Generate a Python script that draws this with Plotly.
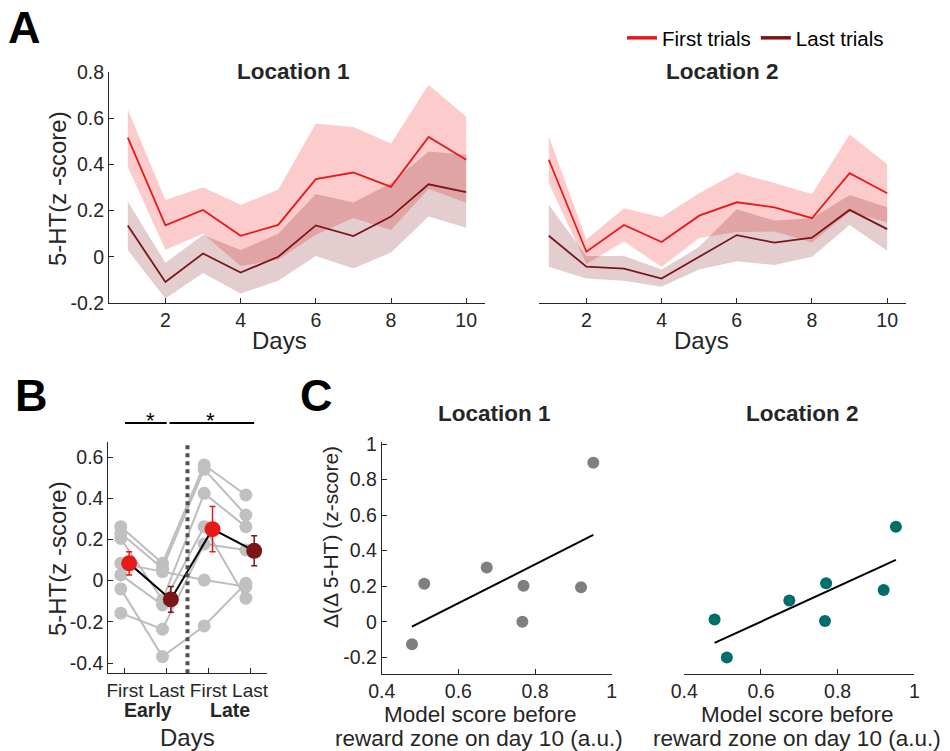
import numpy as np
import plotly.graph_objects as go

W, H = 950, 751
def px(x): return x / W
def py(y): return 1 - y / H

FONT = "Liberation Sans, Arial, Helvetica, sans-serif"
TXT = "#262626"

# ---------------- Panel A data ----------------
days = list(range(1, 11))
loc1_first_mean = [0.516, 0.136, 0.203, 0.091, 0.138, 0.336, 0.365, 0.303, 0.519, 0.420]
loc1_first_upper = [0.638, 0.246, 0.301, 0.225, 0.290, 0.577, 0.562, 0.490, 0.745, 0.606]
loc1_first_lower = [0.390, 0.030, 0.100, -0.040, -0.012, 0.095, 0.168, 0.116, 0.293, 0.234]
loc1_last_mean = [0.135, -0.109, 0.014, -0.068, 0.000, 0.136, 0.090, 0.174, 0.314, 0.280]
loc1_last_upper = [0.239, -0.026, 0.094, 0.029, 0.100, 0.272, 0.235, 0.320, 0.456, 0.442]
loc1_last_lower = [0.029, -0.181, -0.070, -0.159, -0.104, 0.003, -0.051, 0.019, 0.174, 0.126]

loc2_first_mean = [0.420, 0.022, 0.138, 0.064, 0.178, 0.236, 0.214, 0.167, 0.362, 0.275]
loc2_first_upper = [0.522, 0.075, 0.210, 0.171, 0.275, 0.365, 0.319, 0.272, 0.529, 0.401]
loc2_first_lower = [0.318, -0.031, 0.066, -0.043, 0.081, 0.107, 0.109, 0.062, 0.195, 0.149]
loc2_last_mean = [0.091, -0.043, -0.051, -0.094, 0.000, 0.094, 0.061, 0.083, 0.203, 0.120]
loc2_last_upper = [0.225, 0.003, 0.003, -0.055, 0.043, 0.206, 0.157, 0.167, 0.268, 0.214]
loc2_last_lower = [-0.043, -0.094, -0.104, -0.130, -0.055, -0.019, -0.036, 0.000, 0.138, 0.026]

# ---------------- Panel B data ----------------
cond_positions = [1, 2, 3, 4]
cond_labels = ["First", "Last", "First", "Last"]
animals_5ht = [
    [0.262, 0.084, 0.562, 0.416],
    [0.230, 0.060, 0.541, 0.319],
    [0.205, -0.094, 0.424, 0.262],
    [0.084, 0.044, 0.003, -0.029],
    [0.028, -0.118, 0.262, -0.085],
    [-0.040, -0.369, -0.220, -0.013],
    [-0.158, -0.236, 0.178, 0.149],
]
group_mean = [0.084, -0.091, 0.250, 0.145]
group_sem = [0.057, 0.063, 0.110, 0.073]

# ---------------- Panel C data ----------------
model_score = [0.479, 0.511, 0.674, 0.770, 0.767, 0.920, 0.952]
loc1_ddelta = [-0.126, 0.214, 0.305, 0.203, 0.000, 0.194, 0.895]
loc2_ddelta = [0.013, -0.201, 0.120, 0.216, 0.004, 0.179, 0.534]

RED = "#e81919"
DRED = "#7b1518"
RED_BAND = "rgba(240,25,25,0.22)"
DRED_BAND = "rgba(125,20,22,0.21)"

fig = go.Figure()

def band(x, up, lo, color, xa, ya):
    fig.add_trace(go.Scatter(x=list(x) + list(x)[::-1], y=list(up) + list(lo)[::-1],
                             fill="toself", fillcolor=color, line=dict(width=0),
                             mode="lines", hoverinfo="skip", showlegend=False,
                             xaxis=xa, yaxis=ya))

for (fm, fu, fl, lm, lu, ll, xa, ya) in [
    (loc1_first_mean, loc1_first_upper, loc1_first_lower, loc1_last_mean, loc1_last_upper, loc1_last_lower, "x", "y"),
    (loc2_first_mean, loc2_first_upper, loc2_first_lower, loc2_last_mean, loc2_last_upper, loc2_last_lower, "x2", "y2"),
]:
    band(days, fu, fl, RED_BAND, xa, ya)
    band(days, lu, ll, DRED_BAND, xa, ya)
    fig.add_trace(go.Scatter(x=days, y=fm, mode="lines", line=dict(color=RED, width=1.8),
                             showlegend=False, xaxis=xa, yaxis=ya))
    fig.add_trace(go.Scatter(x=days, y=lm, mode="lines", line=dict(color=DRED, width=1.8),
                             showlegend=False, xaxis=xa, yaxis=ya))

# legend entries (thicker lines, as in the reference legend)
fig.add_trace(go.Scatter(x=[None], y=[None], mode="lines", line=dict(color=RED, width=3.5),
                         name="First trials", xaxis="x", yaxis="y"))
fig.add_trace(go.Scatter(x=[None], y=[None], mode="lines", line=dict(color=DRED, width=3.5),
                         name="Last trials", xaxis="x", yaxis="y"))

# Panel B
GRAY_OFF = -0.1
MEAN_OFF = 0.1
for a in animals_5ht:
    fig.add_trace(go.Scatter(x=[p + GRAY_OFF for p in cond_positions], y=a, mode="lines+markers",
                             line=dict(color="#bdbdbd", width=2),
                             marker=dict(color="#c0c0c0", size=13),
                             showlegend=False, xaxis="x3", yaxis="y3", hoverinfo="skip"))
fig.add_trace(go.Scatter(x=[p + MEAN_OFF for p in cond_positions], y=group_mean, mode="lines",
                         line=dict(color="black", width=2), showlegend=False,
                         xaxis="x3", yaxis="y3"))
for i, p in enumerate(cond_positions):
    c = RED if i % 2 == 0 else DRED
    fig.add_trace(go.Scatter(x=[p + MEAN_OFF], y=[group_mean[i]], mode="markers",
                             marker=dict(color=c, size=16),
                             error_y=dict(type="data", array=[group_sem[i]], color=c,
                                          thickness=1.5, width=3),
                             showlegend=False, xaxis="x3", yaxis="y3"))

# Panel C
for (yy, col, xa, ya) in [(loc1_ddelta, "#7f7f7f", "x5", "y5"), (loc2_ddelta, "#006e69", "x6", "y6")]:
    fig.add_trace(go.Scatter(x=model_score, y=yy, mode="markers",
                             marker=dict(color=col, size=12), showlegend=False,
                             xaxis=xa, yaxis=ya))
    k, b = np.polyfit(model_score, yy, 1)
    xs = [min(model_score), max(model_score)]
    fig.add_trace(go.Scatter(x=xs, y=[k * v + b for v in xs], mode="lines",
                             line=dict(color="black", width=2), showlegend=False,
                             xaxis=xa, yaxis=ya))

TS = 19.5

def xax(dom, rng, tv, tt=None, size=TS):
    d = dict(domain=[px(dom[0]), px(dom[1])], range=rng, tickvals=tv, showline=True,
             linecolor=TXT, linewidth=1, ticks="inside", ticklen=5, tickcolor=TXT,
             showgrid=False, zeroline=False, automargin=False,
             tickfont=dict(family=FONT, size=size, color=TXT))
    if tt is not None:
        d["ticktext"] = tt
    return d

def yax(dom, rng, tv, tt, visible=True, size=TS):
    d = dict(domain=[py(dom[1]), py(dom[0])], range=rng, tickvals=tv, ticktext=tt,
             showline=True, linecolor=TXT, linewidth=1, ticks="inside", ticklen=5,
             tickcolor=TXT, showgrid=False, zeroline=False, visible=visible, automargin=False,
             tickfont=dict(family=FONT, size=size, color=TXT))
    return d

yA_vals = [-0.2, 0, 0.2, 0.4, 0.6, 0.8]
yA_text = ["-0.2", "0", "0.2", "0.4", "0.6", "0.8"]
yB_vals = [-0.4, -0.2, 0, 0.2, 0.4, 0.6]
yB_text = ["-0.4", "-0.2", "0", "0.2", "0.4", "0.6"]
yC_vals = [-0.2, 0, 0.2, 0.4, 0.6, 0.8, 1]
yC_text = ["-0.2", "0", "0.2", "0.4", "0.6", "0.8", "1"]
xC_vals = [0.4, 0.6, 0.8, 1]
xC_text = ["0.4", "0.6", "0.8", "1"]

fig.update_layout(
    template="none",
    xaxis=dict(**xax((109, 485), [0.5, 10.5], [2, 4, 6, 8, 10]), anchor="y"),
    yaxis=dict(**yax((72, 303), [-0.2, 0.8], yA_vals, yA_text), anchor="x"),
    xaxis2=dict(**xax((539, 906), [0.74, 10.5], [2, 4, 6, 8, 10]), anchor="y2"),
    yaxis2=dict(**yax((72, 303), [-0.2, 0.8], yA_vals, yA_text, visible=False), anchor="x2"),
    xaxis3=dict(**xax((108.3, 266.7), [0.6, 4.4], cond_positions, cond_labels, size=19), anchor="y3"),
    yaxis3=dict(**yax((441.7, 673.3), [-0.45, 0.675], yB_vals, yB_text), anchor="x3"),
    xaxis5=dict(**xax((381.7, 611.7), [0.4, 1.0], xC_vals, xC_text), anchor="y5"),
    yaxis5=dict(**yax((441.7, 674), [-0.294, 1.013], yC_vals, yC_text), anchor="x5"),
    xaxis6=dict(**xax((684.3, 914.3), [0.4, 1.0], xC_vals, xC_text), anchor="y6"),
    yaxis6=dict(**yax((441.7, 674), [-0.294, 1.013], yC_vals, yC_text, visible=False), anchor="x6"),
    width=W, height=H, margin=dict(l=0, r=0, t=0, b=0, pad=0),
    paper_bgcolor="white", plot_bgcolor="white",
    font=dict(family=FONT, color=TXT),
    showlegend=True,
    legend=dict(orientation="h", x=px(622), xanchor="left", y=py(38), yanchor="middle",
                font=dict(family=FONT, size=20.5, color="black"), bgcolor="rgba(0,0,0,0)",
                borderwidth=0, itemwidth=30, tracegroupgap=0),
)

# Dotted separator in panel B
fig.add_shape(type="line", xref="x3", yref="y3", x0=2.5, x1=2.5, y0=-0.45, y1=0.66,
              line=dict(color="#505050", width=4, dash="dot"))
# significance bars
fig.add_shape(type="line", xref="x3", yref="paper", x0=1, x1=2, y0=py(423), y1=py(423),
              line=dict(color="black", width=2))
fig.add_shape(type="line", xref="x3", yref="paper", x0=2.07, x1=4.1, y0=py(423), y1=py(423),
              line=dict(color="black", width=2))

anns = []
def ann(text, x, y, size, bold=False, rot=0, color=TXT, xanchor="center", yanchor="middle"):
    t = f"<b>{text}</b>" if bold else text
    anns.append(dict(text=t, x=px(x), y=py(y), xref="paper", yref="paper", showarrow=False,
                     textangle=rot, xanchor=xanchor, yanchor=yanchor, align="center",
                     font=dict(family=FONT, size=size, color=color)))

ann("A", 6, 27, 45, bold=True, color="black", xanchor="left")
ann("B", 13, 395, 45, bold=True, color="black", xanchor="left")
ann("C", 298, 395, 45, bold=True, color="black", xanchor="left")

ann("Location 1", 293, 71, 22.5, bold=True)
ann("Location 2", 722, 71, 22.5, bold=True)
ann("Days", 279, 341, 24)
ann("Days", 701, 341, 24)
ann("5-HT(z -score)", 57, 189, 24, rot=-90)

ann("*", 150, 420, 22, color="black")
ann("*", 210, 420, 22, color="black")
ann("5-HT(z -score)", 57, 559, 24, rot=-90)
ann("Early", 148, 710, 19.5, bold=True)
ann("Late", 230, 710, 19.5, bold=True)
ann("Days", 187, 737, 24)

ann("Location 1", 494, 413, 22.5, bold=True)
ann("Location 2", 802, 413, 22.5, bold=True)
ann("Δ(Δ 5-HT) (z-score)", 330, 537, 21, rot=-90)
ann("Model score before", 480, 714, 22.5)
ann("reward zone on day 10 (a.u.)", 479, 738, 22.5)
ann("Model score before", 797, 714, 22.5)
ann("reward zone on day 10 (a.u.)", 797, 738, 22.5)

fig.update_layout(annotations=anns)
fig.write_html("out.html")
